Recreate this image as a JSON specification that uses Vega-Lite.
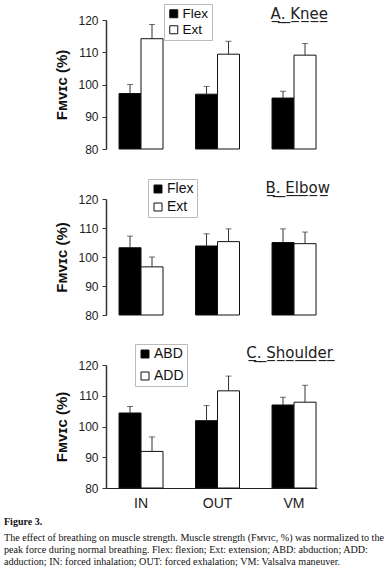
{
  "$schema": "https://vega.github.io/schema/vega-lite/v6.json",
  "padding": {"left": 4, "top": 3, "right": 0, "bottom": 0},
  "background": "white",
  "datasets": {
    "knee": [
      {"cond": "IN", "grp": "Flex", "mean": 97.2, "hi": 100.0},
      {"cond": "IN", "grp": "Ext", "mean": 114.2, "hi": 118.6},
      {"cond": "OUT", "grp": "Flex", "mean": 97.0, "hi": 99.4},
      {"cond": "OUT", "grp": "Ext", "mean": 109.4, "hi": 113.4},
      {"cond": "VM", "grp": "Flex", "mean": 95.8, "hi": 97.9},
      {"cond": "VM", "grp": "Ext", "mean": 109.1, "hi": 112.7}
    ],
    "elbow": [
      {"cond": "IN", "grp": "Flex", "mean": 103.2, "hi": 107.2},
      {"cond": "IN", "grp": "Ext", "mean": 96.6, "hi": 100.0},
      {"cond": "OUT", "grp": "Flex", "mean": 103.8, "hi": 108.0},
      {"cond": "OUT", "grp": "Ext", "mean": 105.3, "hi": 109.7},
      {"cond": "VM", "grp": "Flex", "mean": 105.0, "hi": 109.7},
      {"cond": "VM", "grp": "Ext", "mean": 104.6, "hi": 108.6}
    ],
    "shoulder": [
      {"cond": "IN", "grp": "ABD", "mean": 104.4, "hi": 106.5},
      {"cond": "IN", "grp": "ADD", "mean": 91.9, "hi": 96.6},
      {"cond": "OUT", "grp": "ABD", "mean": 101.9, "hi": 106.8},
      {"cond": "OUT", "grp": "ADD", "mean": 111.6, "hi": 116.4},
      {"cond": "VM", "grp": "ABD", "mean": 107.0, "hi": 109.5},
      {"cond": "VM", "grp": "ADD", "mean": 107.9, "hi": 113.4}
    ]
  },
  "title": {
    "text": "Figure 3.",
    "subtitle": [
      "The effect of breathing on muscle strength. Muscle strength (Fᴍᴠɪᴄ, %) was normalized to the",
      "peak force during normal breathing. Flex: flexion; Ext: extension; ABD: abduction; ADD:",
      "adduction; IN: forced inhalation; OUT: forced exhalation; VM: Valsalva maneuver."
    ],
    "orient": "bottom",
    "anchor": "start",
    "frame": "group",
    "dx": -102,
    "offset": 7,
    "font": "Liberation Serif",
    "fontSize": 10,
    "fontWeight": "bold",
    "color": "#111",
    "subtitleFont": "Liberation Serif",
    "subtitleFontSize": 10.1,
    "subtitleLineHeight": 12,
    "subtitlePadding": 6,
    "subtitleColor": "#111"
  },
  "bounds": "flush",
  "spacing": 50,
  "resolve": {
    "scale": {"x": "independent", "y": "independent", "xOffset": "independent", "fill": "independent"},
    "legend": {"fill": "independent"},
    "axis": {"x": "independent", "y": "independent"}
  },
  "vconcat": [
    {
      "width": 211, "height": 129,
      "data": {"name": "knee"},
      "title": {"text": "A̲.̲ ̲K̲n̲e̲e̲", "anchor": "end", "dx": 11, "dy": 18, "offset": 0},
      "encoding": {
        "x": {"field": "cond", "type": "nominal", "sort": ["IN", "OUT", "VM"], "scale": {"paddingInner": 0.425, "paddingOuter": 0.0915, "align": 0.93}, "axis": null},
        "xOffset": {"field": "grp", "type": "nominal", "sort": ["Flex", "Ext"]}
      },
      "layer": [
        {
          "mark": {"type": "bar", "stroke": "#111", "strokeWidth": 1},
          "encoding": {
            "y": {"field": "mean", "type": "quantitative", "scale": {"domain": [80, 120]},
                  "axis": {"values": [80, 90, 100, 110, 120], "title": "Fᴍᴠɪᴄ (%)"}},
            "y2": {"datum": 80},
            "fill": {"field": "grp", "type": "nominal", "scale": {"domain": ["Flex", "Ext"], "range": ["black", "white"]},
                     "legend": {"orient": "none", "legendX": 58, "legendY": -16, "rowPadding": 1, "labelFontSize": 13.5}}
          }
        },
        {"mark": {"type": "rule", "color": "#333"}, "encoding": {"y": {"field": "mean", "type": "quantitative", "axis": {"values": [80, 90, 100, 110, 120], "title": "Fᴍᴠɪᴄ (%)"}}, "y2": {"field": "hi"}}},
        {"mark": {"type": "tick", "color": "#333", "size": 6, "thickness": 1}, "encoding": {"y": {"field": "hi", "type": "quantitative", "axis": {"values": [80, 90, 100, 110, 120], "title": "Fᴍᴠɪᴄ (%)"}}}}
      ]
    },
    {
      "width": 211, "height": 116,
      "data": {"name": "elbow"},
      "title": {"text": "B̲.̲ ̲E̲l̲b̲o̲w̲", "anchor": "end", "dx": 13, "dy": 21, "offset": 4},
      "encoding": {
        "x": {"field": "cond", "type": "nominal", "sort": ["IN", "OUT", "VM"], "scale": {"paddingInner": 0.425, "paddingOuter": 0.0915, "align": 0.93}, "axis": null},
        "xOffset": {"field": "grp", "type": "nominal", "sort": ["Flex", "Ext"]}
      },
      "layer": [
        {
          "mark": {"type": "bar", "stroke": "#111", "strokeWidth": 1},
          "encoding": {
            "y": {"field": "mean", "type": "quantitative", "scale": {"domain": [80, 120]},
                  "axis": {"values": [80, 90, 100, 110, 120], "title": "Fᴍᴠɪᴄ (%)"}},
            "y2": {"datum": 80},
            "fill": {"field": "grp", "type": "nominal", "scale": {"domain": ["Flex", "Ext"], "range": ["black", "white"]},
                     "legend": {"orient": "none", "legendX": 42, "legendY": -20, "rowPadding": 4}}
          }
        },
        {"mark": {"type": "rule", "color": "#333"}, "encoding": {"y": {"field": "mean", "type": "quantitative", "axis": {"values": [80, 90, 100, 110, 120], "title": "Fᴍᴠɪᴄ (%)"}}, "y2": {"field": "hi"}}},
        {"mark": {"type": "tick", "color": "#333", "size": 6, "thickness": 1}, "encoding": {"y": {"field": "hi", "type": "quantitative", "axis": {"values": [80, 90, 100, 110, 120], "title": "Fᴍᴠɪᴄ (%)"}}}}
      ]
    },
    {
      "width": 211, "height": 123,
      "data": {"name": "shoulder"},
      "title": {"text": "C̲.̲ ̲S̲h̲o̲u̲l̲d̲e̲r̲", "anchor": "end", "dx": 16, "dy": 23, "offset": 6},
      "encoding": {
        "x": {"field": "cond", "type": "nominal", "sort": ["IN", "OUT", "VM"], "scale": {"paddingInner": 0.425, "paddingOuter": 0.0915, "align": 0.93},
              "axis": {"title": null, "labelFontSize": 14, "labelAngle": 0, "ticks": false, "domain": true, "domainColor": "#222", "labelPadding": 8}},
        "xOffset": {"field": "grp", "type": "nominal", "sort": ["ABD", "ADD"]}
      },
      "layer": [
        {
          "mark": {"type": "bar", "stroke": "#111", "strokeWidth": 1},
          "encoding": {
            "y": {"field": "mean", "type": "quantitative", "scale": {"domain": [80, 120]},
                  "axis": {"values": [80, 90, 100, 110, 120], "title": "Fᴍᴠɪᴄ (%)"}},
            "y2": {"datum": 80},
            "fill": {"field": "grp", "type": "nominal", "scale": {"domain": ["ABD", "ADD"], "range": ["black", "white"]},
                     "legend": {"orient": "none", "legendX": 29, "legendY": -21, "rowPadding": 8}}
          }
        },
        {"mark": {"type": "rule", "color": "#333"}, "encoding": {"y": {"field": "mean", "type": "quantitative", "axis": {"values": [80, 90, 100, 110, 120], "title": "Fᴍᴠɪᴄ (%)"}}, "y2": {"field": "hi"}}},
        {"mark": {"type": "tick", "color": "#333", "size": 6, "thickness": 1}, "encoding": {"y": {"field": "hi", "type": "quantitative", "axis": {"values": [80, 90, 100, 110, 120], "title": "Fᴍᴠɪᴄ (%)"}}}}
      ]
    }
  ],
  "config": {
    "font": "Liberation Sans",
    "view": {"stroke": null},
    "axisY": {"grid": false, "tickSize": 4, "labelFontSize": 12, "labelColor": "#222", "domainColor": "#333", "domainWidth": 1.5, "tickColor": "#333", "labelPadding": 4,
              "labelOverlap": false, "titleFontSize": 15, "titleFontWeight": "bold", "titleColor": "#111", "titlePadding": 8},
    "axisX": {"labelColor": "#222"},
    "legend": {"title": null, "symbolType": "square", "symbolSize": 64, "symbolStrokeColor": "#111", "symbolStrokeWidth": 1,
               "labelFontSize": 14, "labelColor": "#111", "labelOffset": 2, "strokeColor": "#bbb", "padding": 3, "symbolOpacity": 1},
    "title": {"fontSize": 15, "fontWeight": "normal", "color": "#222", "font": "DejaVu Sans"}
  }
}
